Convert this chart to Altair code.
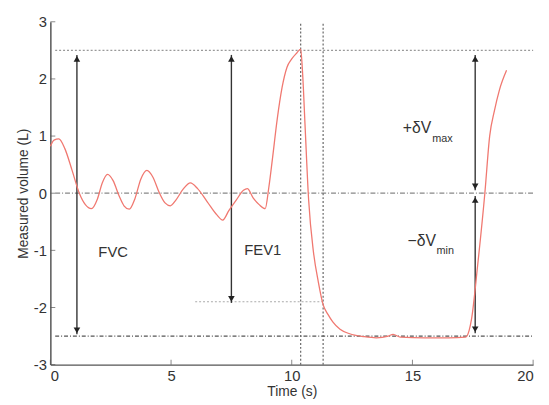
import altair as alt
import pandas as pd

# Red volume trace (time s, volume L)
t = [0.0, 0.15, 0.35, 0.6, 0.9, 1.2, 1.45, 1.7, 1.95, 2.15, 2.37, 2.6, 2.85, 3.05, 3.27, 3.5,
     3.75, 4.0, 4.25, 4.5, 4.75, 4.97, 5.2, 5.5, 5.8, 6.1, 6.5, 6.9, 7.14, 7.4, 7.7, 8.0, 8.16,
     8.4, 8.65, 8.9, 9.05, 9.2, 9.4, 9.6, 9.8, 10.0, 10.2, 10.37, 10.45, 10.55, 10.7, 10.9, 11.1,
     11.3, 11.5, 11.7, 12.0, 12.4, 13.0, 13.5, 14.0, 14.2, 14.5, 15.5, 16.5, 17.2, 17.35, 17.45,
     17.7, 18.0, 18.2, 18.4, 18.6, 18.9]
v = [0.82, 0.93, 0.95, 0.78, 0.4, 0.0, -0.2, -0.27, -0.1, 0.18, 0.33, 0.22, -0.05, -0.22, -0.28, -0.1,
     0.25, 0.4, 0.28, 0.02, -0.17, -0.22, -0.12, 0.07, 0.18, 0.08, -0.15, -0.38, -0.47, -0.3, -0.12, 0.05, 0.08,
     -0.08, -0.2, -0.27, 0.1, 0.6, 1.3, 1.85, 2.2, 2.35, 2.45, 2.52, 2.1, 1.2, -0.12, -1.03, -1.55,
     -1.95, -2.12, -2.25, -2.38, -2.46, -2.51, -2.53, -2.5, -2.47, -2.52, -2.53, -2.53, -2.52, -2.4, -2.2,
     -1.27, 0.0, 1.0, 1.45, 1.8, 2.15]

# Reference lines
h_y = [2.5, 0.0, -2.5, -1.9]
h_x1 = [0.2, 0.2, 0.2, 6.0]
h_x2 = [20.0, 20.0, 20.0, 11.3]
v_x = [10.37, 11.3]

# Arrows: x, top, bottom
arr_x = [1.1, 7.5, 17.6, 17.6]
arr_top = [2.42, 2.42, 2.42, -0.05]
arr_bot = [-2.47, -1.92, 0.05, -2.45]

x_ticks = [0, 5, 10, 15, 20]
y_ticks = [-3, -2, -1, 0, 1, 2, 3]

FONT = "Liberation Sans"
xs = alt.Scale(domain=[0, 20], nice=False)
ys = alt.Scale(domain=[-3, 3], nice=False)

curve = pd.DataFrame({"t": t, "v": v})
hl = pd.DataFrame({"y": h_y, "x1": h_x1, "x2": h_x2})
vl = pd.DataFrame({"x": v_x, "y1": [-3] * len(v_x), "y2": [3] * len(v_x)})
arr = pd.DataFrame({"x": arr_x, "top": arr_top, "bot": arr_bot})

base_x = alt.X("t:Q", scale=xs, axis=alt.Axis(values=x_ticks, title="Time (s)",
                                               labelExpr="'' + datum.value"))
base_y = alt.Y("v:Q", scale=ys, axis=alt.Axis(values=y_ticks, title="Measured volume (L)",
                                               labelExpr="'' + datum.value"))

line = alt.Chart(curve).mark_line(color="#f07870", strokeWidth=1.3, interpolate="monotone").encode(
    x=base_x, y=base_y)

def hrule(i, color, dash):
    return alt.Chart(hl.iloc[[i]]).mark_rule(color=color, strokeDash=dash, strokeWidth=1.2).encode(
        x=alt.X("x1:Q", scale=xs), x2="x2:Q", y=alt.Y("y:Q", scale=ys))

r1 = hrule(0, "#999999", [2, 2])
r2 = hrule(1, "#888888", [5, 2, 1, 2])
r3 = hrule(2, "#555555", [4, 2, 1, 2])
r4 = hrule(3, "#aaaaaa", [2, 2])

vr = alt.Chart(vl).mark_rule(color="#666666", strokeDash=[2, 2], strokeWidth=1.2).encode(
    x=alt.X("x:Q", scale=xs), y=alt.Y("y1:Q", scale=ys), y2="y2:Q")

shaft = alt.Chart(arr).mark_rule(color="#333333", strokeWidth=1.4).encode(
    x=alt.X("x:Q", scale=xs), y=alt.Y("top:Q", scale=ys), y2="bot:Q")
head_up = alt.Chart(arr).mark_point(shape="triangle-up", filled=True, color="#222222", size=45,
                                    opacity=1, yOffset=4).encode(
    x=alt.X("x:Q", scale=xs), y=alt.Y("top:Q", scale=ys))
head_dn = alt.Chart(arr).mark_point(shape="triangle-down", filled=True, color="#222222", size=45,
                                    opacity=1, yOffset=-4).encode(
    x=alt.X("x:Q", scale=xs), y=alt.Y("bot:Q", scale=ys))

lab = pd.DataFrame({"x": [2.6, 8.8], "y": [-1.03, -1.0], "s": ["FVC", "FEV1"]})
labels = alt.Chart(lab).mark_text(font=FONT, fontSize=15, color="#333333").encode(
    x=alt.X("x:Q", scale=xs), y=alt.Y("y:Q", scale=ys), text="s:N")

dl = pd.DataFrame({"x": [14.6, 14.8], "y": [1.14, -0.84], "s": ["+δV", "−δV"]})
dlab = alt.Chart(dl).mark_text(font=FONT, fontSize=16, color="#333333", align="left").encode(
    x=alt.X("x:Q", scale=xs), y=alt.Y("y:Q", scale=ys), text="s:N")
sl = pd.DataFrame({"x": [15.82, 16.0], "y": [0.95, -1.02], "s": ["max", "min"]})
slab = alt.Chart(sl).mark_text(font=FONT, fontSize=11, color="#333333", align="left").encode(
    x=alt.X("x:Q", scale=xs), y=alt.Y("y:Q", scale=ys), text="s:N")

xt = alt.Chart(pd.DataFrame({"x": x_ticks, "y": [-3] * len(x_ticks)})).mark_tick(
    orient="vertical", size=5, thickness=1, color="#555555", yOffset=-2.5).encode(
    x=alt.X("x:Q", scale=xs), y=alt.Y("y:Q", scale=ys))
yt = alt.Chart(pd.DataFrame({"x": [0] * len(y_ticks), "y": y_ticks})).mark_tick(
    orient="horizontal", size=5, thickness=1, color="#555555", xOffset=2.5).encode(
    x=alt.X("x:Q", scale=xs), y=alt.Y("y:Q", scale=ys))

chart = alt.layer(r1, r2, r3, r4, vr, shaft, head_up, head_dn, line, labels, dlab, slab, xt, yt).properties(
    width=490, height=348,
    autosize=alt.AutoSizeParams(type="none"),
    padding={"left": 43, "top": 11, "right": 8, "bottom": 38},
).configure_view(stroke=None).configure_axis(
    grid=False, domainColor="#555555", domainWidth=1.5, tickSize=0,
    labelFont=FONT, labelFontSize=15, labelColor="#333333", labelPadding=4,
    titleFont=FONT, titleFontSize=14, titleFontWeight="normal", titleColor="#333333",
).configure_axisY(titlePadding=3).configure_axisX(titlePadding=1)

chart.save("out.html", embed_options={"renderer": "svg", "actions": False})
